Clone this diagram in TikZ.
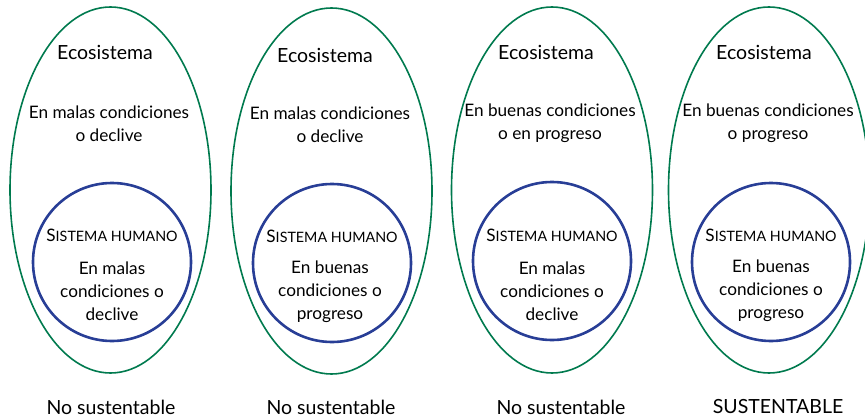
\documentclass[tikz,border=0pt]{standalone}
\usepackage{fontspec}
\setmainfont{Lato}
\usepackage{xcolor}
\usepackage{tikz}
\usetikzlibrary{shapes.geometric,positioning,calc}
\definecolor{ecogreen}{RGB}{0,122,78}
\definecolor{humblue}{RGB}{40,62,150}

\newcommand{\sishum}{S{\fontsize{14.3}{16}\selectfont ISTEMA HUMANO}}

\begin{document}
\begin{tikzpicture}[
    x=1pt, y=-1pt,
    eco/.style={ellipse, draw=ecogreen, line width=1.6pt, minimum width=201pt, minimum height=366pt},
    hum/.style={circle, draw=humblue, line width=2.6pt, minimum size=158pt},
    titulo/.style={font=\fontsize{19.5}{22}\selectfont, inner sep=0pt},
    estado/.style={align=center, font=\fontsize{17.2}{23}\selectfont, inner sep=0pt},
    resultado/.style={font=\fontsize{19.5}{22}\selectfont, inner sep=0pt}
]
    \useasboundingbox (0,0) rectangle (865,420);

    % Ecosistemas
    \node[eco] (eco1) at (110.5,190) {};
    \node[eco] (eco2) at (331.5,191) {};
    \node[eco] (eco3) at (552,190) {};
    \node[eco] (eco4) at (769,190) {};

    % Sistemas humanos
    \node[hum] (hum1) at (112,262) {};
    \node[hum] (hum2) at (332,263) {};
    \node[hum] (hum3) at (552,261) {};
    \node[hum] (hum4) at (771,262) {};

    % Primer caso
    \node[titulo] (tit1) at (105,52) {Ecosistema};
    \node[estado] (est1) at (109,124) {En malas condiciones\\o declive};
    \node[estado] (htit1) at (112,235) {\sishum};
    \node[estado] (hest1) at (112,291) {En malas\\condiciones o\\declive};
    \node[resultado] (res1) at (111,407) {No sustentable};

    % Segundo caso
    \node[titulo] (tit2) at (325,55) {Ecosistema};
    \node[estado] (est2) at (330,125) {En malas condiciones\\o declive};
    \node[estado] (htit2) at (332,236) {\sishum};
    \node[estado] (hest2) at (330,292) {En buenas\\condiciones o\\progreso};
    \node[resultado] (res2) at (331,407) {No sustentable};

    % Tercer caso
    \node[titulo] (tit3) at (546,52) {Ecosistema};
    \node[estado] (est3) at (550,123) {En buenas condiciones\\o en progreso};
    \node[estado] (htit3) at (552,235) {\sishum};
    \node[estado] (hest3) at (552,291) {En malas\\condiciones o\\declive};
    \node[resultado] (res3) at (561,407) {No sustentable};

    % Cuarto caso
    \node[titulo] (tit4) at (764,52) {Ecosistema};
    \node[estado] (est4) at (768,123) {En buenas condiciones\\o progreso};
    \node[estado] (htit4) at (771,235) {\sishum};
    \node[estado] (hest4) at (771,291) {En buenas\\condiciones o\\progreso};
    \node[resultado] (res4) at (778,407) {SUSTENTABLE};
\end{tikzpicture}
\end{document}
